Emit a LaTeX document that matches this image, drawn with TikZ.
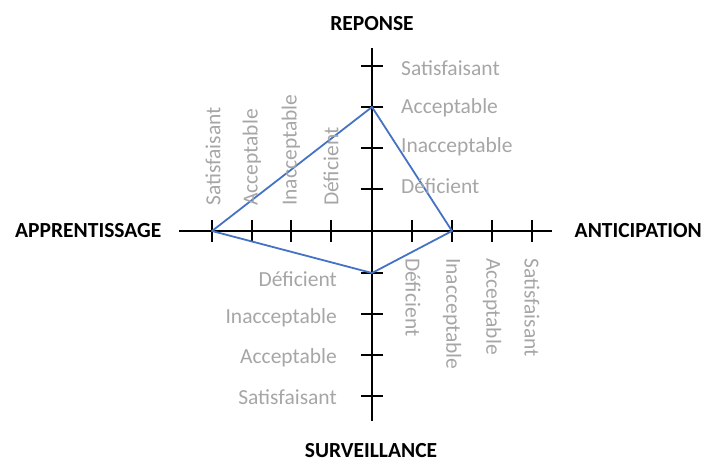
\documentclass[tikz,border=0pt]{standalone}
\usepackage{fontspec}
\setmainfont{Carlito}
\definecolor{lblgray}{RGB}{166,166,166}
\definecolor{polyblue}{RGB}{68,114,196}
\begin{document}
\begin{tikzpicture}[x=1pt,y=-1pt,
  axis/.style={draw=black,line width=1.8pt},
  tick/.style={draw=black,line width=1.8pt},
  lvl/.style={text=lblgray,inner sep=0pt,font=\fontsize{21.5}{24}\selectfont},
  title/.style={text=black,inner sep=0pt,font=\bfseries\fontsize{21.5}{24}\selectfont},
  poly/.style={draw=polyblue,line width=1.8pt,line join=round}]
\useasboundingbox (0,0) rectangle (703,461);
% axis ends
\coordinate (O) at (372,231);
\coordinate (T) at (372,48);
\coordinate (B) at (372,421);
\coordinate (L) at (179,231);
\coordinate (R) at (552,231);
\draw[axis] (L) -- (R);
\draw[axis] (T) -- (B);
% ticks
\foreach \n/\y in {u1/189,u2/148,u3/107,u4/66,d1/273,d2/314,d3/355,d4/396}{
  \coordinate (\n) at (372,\y);
  \draw[tick] ([xshift=-11pt]\n) -- ([xshift=11pt]\n);
}
\foreach \n/\x in {r1/412,r2/452,r3/492,r4/532,l1/331,l2/291,l3/252,l4/212}{
  \coordinate (\n) at (\x,231);
  \draw[tick] ([yshift=-11pt]\n) -- ([yshift=11pt]\n);
}
% polygon
\draw[poly] (u3) -- (r2) -- (d1) -- (l4) -- cycle;
% top labels
\node[lvl,anchor=west] (tS) at (401,68) {Satisfaisant};
\node[lvl,anchor=west] (tA) at (401,108) {Acceptable};
\node[lvl,anchor=west] (tI) at (401,147) {Inacceptable};
\node[lvl,anchor=west] (tD) at (401,186) {Déficient};
% bottom labels
\node[lvl,anchor=east] (bD) at (337,279) {Déficient};
\node[lvl,anchor=east] (bI) at (337,318) {Inacceptable};
\node[lvl,anchor=east] (bA) at (337,358) {Acceptable};
\node[lvl,anchor=east] (bS) at (337,397) {Satisfaisant};
% left labels
\node[lvl,rotate=90,anchor=west] (lS) at (213,206) {Satisfaisant};
\node[lvl,rotate=90,anchor=west] (lA) at (252,206) {Acceptable};
\node[lvl,rotate=90,anchor=west] (lI) at (291,206) {Inacceptable};
\node[lvl,rotate=90,anchor=west] (lD) at (331,206) {Déficient};
% right labels
\node[lvl,rotate=-90,anchor=west] (rD) at (413,258) {Déficient};
\node[lvl,rotate=-90,anchor=west] (rI) at (452,258) {Inacceptable};
\node[lvl,rotate=-90,anchor=west] (rA) at (492,258) {Acceptable};
\node[lvl,rotate=-90,anchor=west] (rS) at (532,258) {Satisfaisant};
% titles
\node[title,anchor=base] (rep) at (372,30) {REPONSE};
\node[title,anchor=base] (sur) at (371,457) {SURVEILLANCE};
\node[title,anchor=west] (app) at (15,231) {APPRENTISSAGE};
\node[title,anchor=east] (ant) at (702,231) {ANTICIPATION};
\end{tikzpicture}
\end{document}
